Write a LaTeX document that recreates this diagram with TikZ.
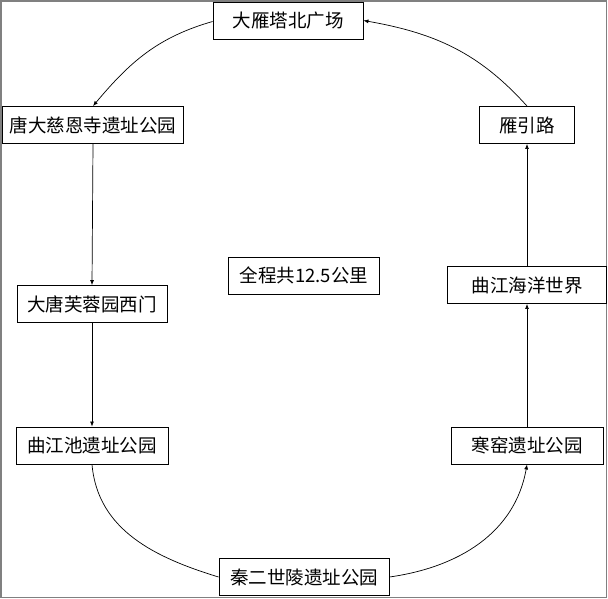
\documentclass[tikz,border=0pt]{standalone}
\usepackage{fontspec}
\setmainfont{Noto Sans CJK SC}
\usetikzlibrary{arrows.meta}
\begin{document}
\begin{tikzpicture}[x=1pt,y=-1pt,
  place/.style={draw=black,line width=0.9pt,minimum height=37pt,inner sep=0pt,font=\fontsize{18.5}{21}\selectfont,fill=white},
  link/.style={draw=black,line width=0.7pt,-{Latex[length=5pt,width=4pt]}},
  plain/.style={draw=black,line width=0.7pt}]
\useasboundingbox (0,0) rectangle (608,598);
\draw[gray,line width=1.5pt] (0.75,0.75) rectangle (606.5,597.25);
\node[place,minimum width=150pt] (a) at (288,20.5) {大雁塔北广场};
\node[place,minimum width=181pt] (b) at (93,125) {唐大慈恩寺遗址公园};
\node[place,minimum width=95pt] (h) at (527,125) {雁引路};
\node[place,minimum width=150pt] (c) at (92,304) {大唐芙蓉园西门};
\node[place,minimum width=151pt] (t) at (304,275.5) {全程共12.5公里};
\node[place,minimum width=159pt] (g) at (527,285) {曲江海洋世界};
\node[place,minimum width=152pt] (d) at (92,445.5) {曲江池遗址公园};
\node[place,minimum width=152pt] (f) at (527,445.5) {寒窑遗址公园};
\node[place,minimum width=170pt] (e) at (304,577) {秦二世陵遗址公园};
\draw[link] (a.west) ++(0,1) to[out=196,in=50] (b.north);
\draw[link] (b.south) -- (c.north);
\draw[link] (c.south) -- (d.north);
\draw[plain] (d.south) to[out=-85,in=163] (e.west);
\draw[link] (e.east) to[out=8,in=-100] (f.south);
\draw[link] (f.north) -- (g.south);
\draw[link] (g.north) -- (h.south);
\draw[link] (h.north) to[out=132,in=-10] (a.east);
\end{tikzpicture}
\end{document}
